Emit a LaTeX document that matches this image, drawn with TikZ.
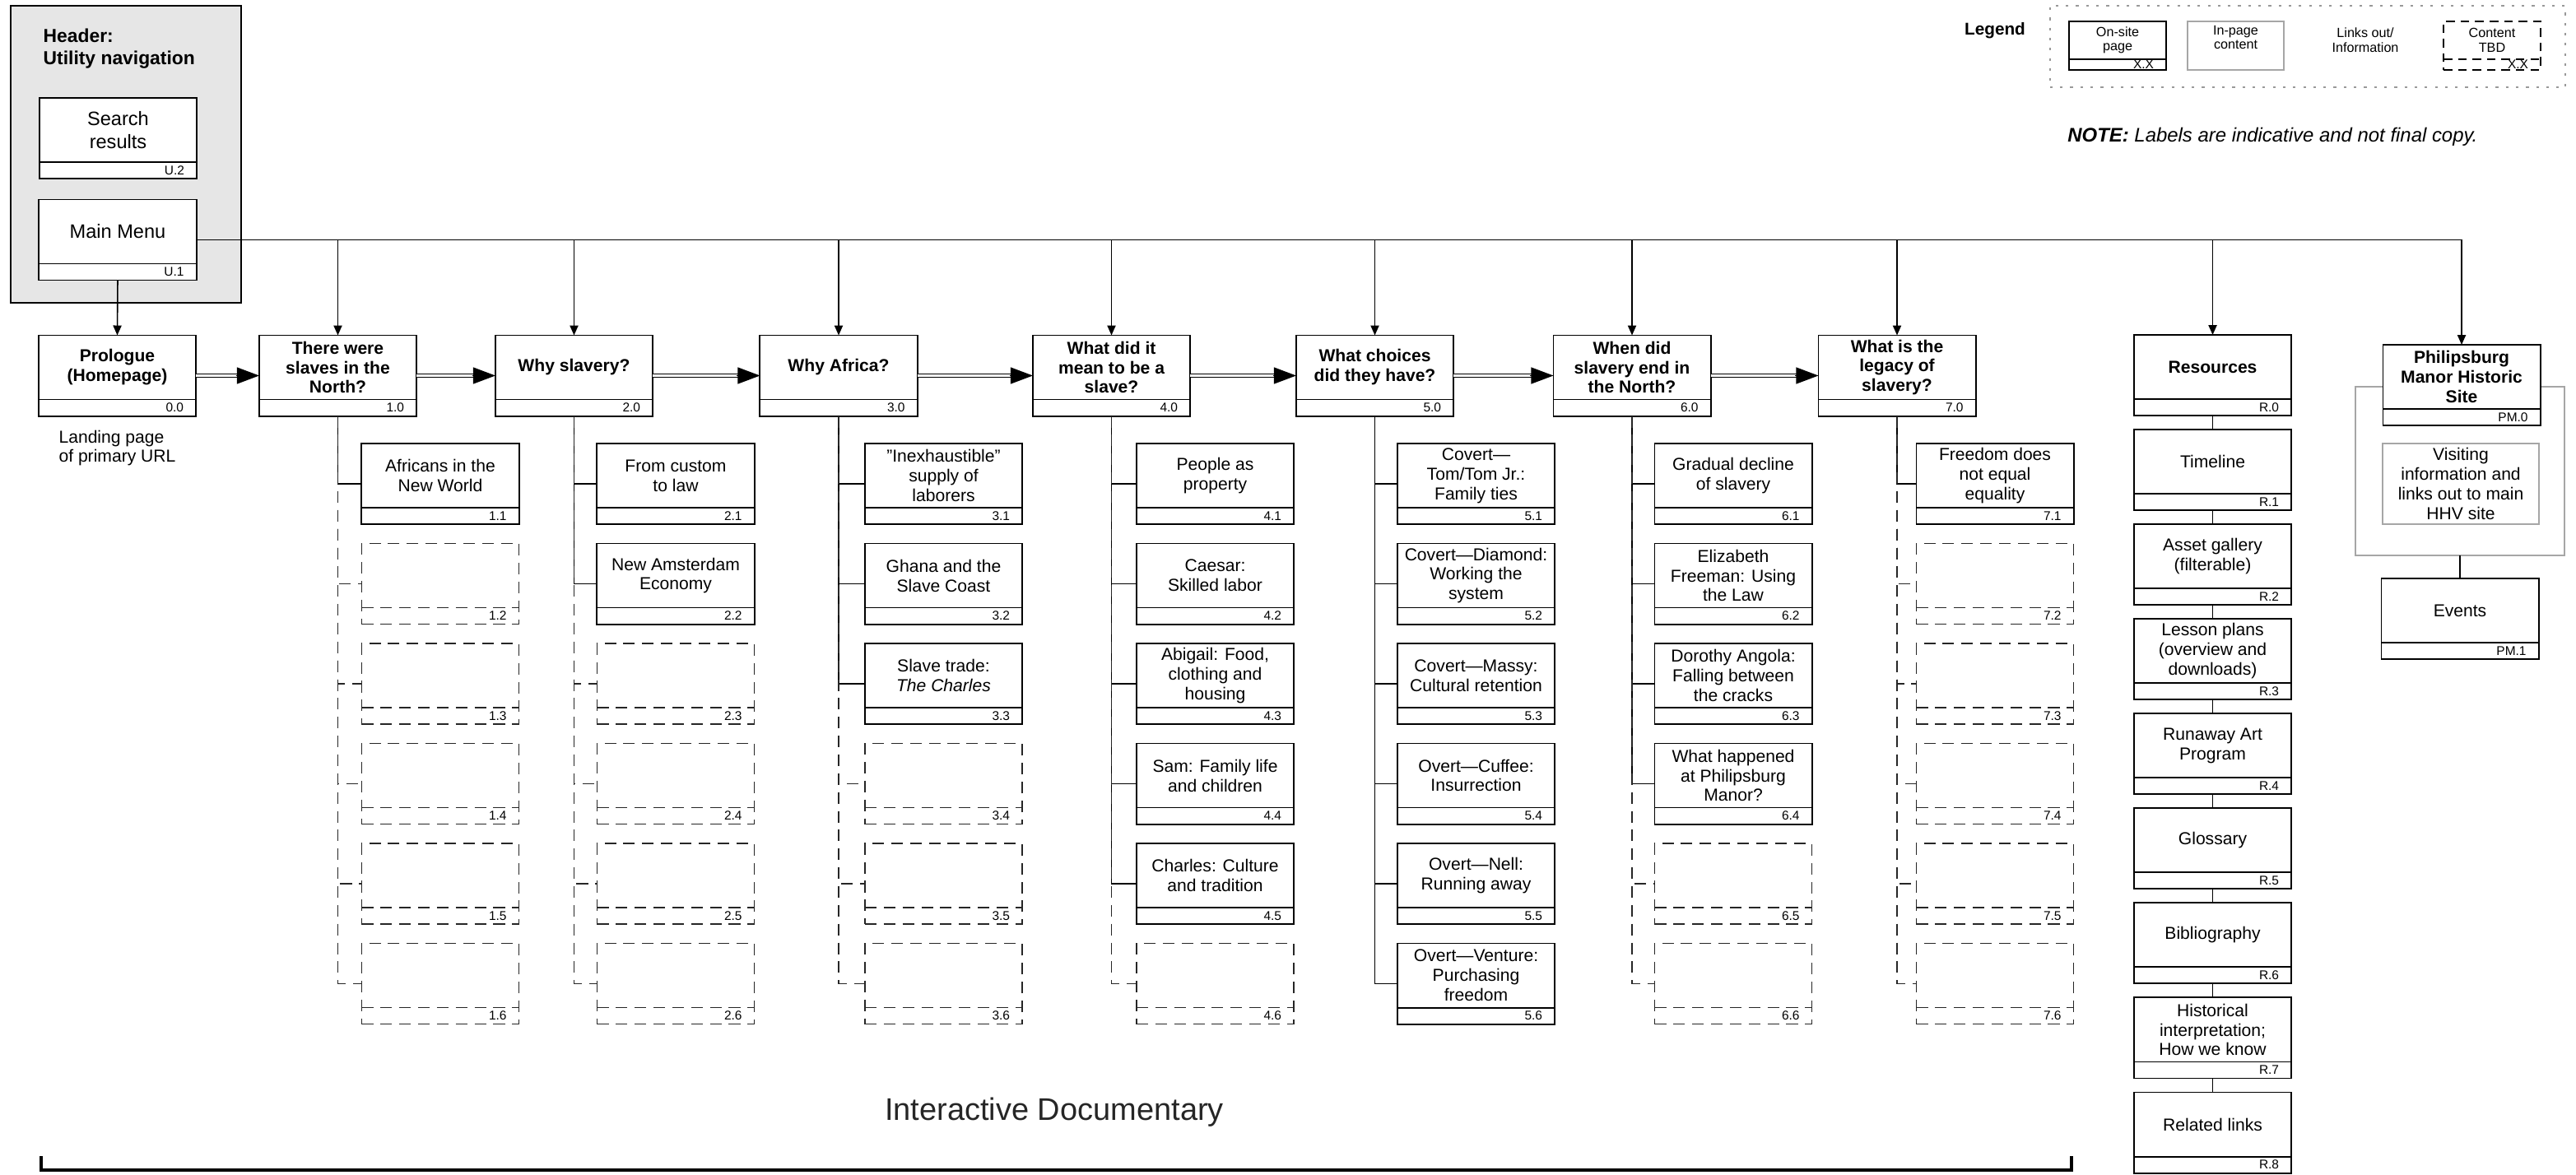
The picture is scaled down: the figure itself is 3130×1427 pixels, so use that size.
\documentclass[tikz,border=0pt]{standalone}
\usepackage{fontspec}
\setmainfont{Liberation Sans}
\usetikzlibrary{positioning, arrows.meta}

\definecolor{utilgray}{HTML}{E6E6E6}
\def\footh{0.2cm}
\newcommand{\numfont}{\fontsize{4.4}{4.4}\selectfont}
\newcommand{\pgtxt}[1]{\parbox[c][0.98cm][c]{1.87cm}{\centering #1\par\vspace{\footh}}}
\newcommand{\legtxt}[1]{\parbox[c][0.59cm][c]{1.14cm}{\centering #1\par\vspace{\footh}}}

\tikzset{
  footer/.code={\def\footh{#1}},
  pagebox/.style={draw, line width=0.55pt, fill=white, inner sep=0pt, outer sep=0pt,
    minimum width=1.91cm, minimum height=0.98cm,
    font=\fontsize{6}{6.8}\selectfont,
    path picture={
      \draw ([yshift=\footh]path picture bounding box.south west) -- ([yshift=\footh]path picture bounding box.south east);
      \node[anchor=east, inner sep=0pt, minimum size=0pt, font=\numfont]
        at ([xshift=-0.15cm, yshift=0.5*\footh]path picture bounding box.south east) {#1};
    }},
  toppage/.style={pagebox=#1, font=\bfseries\fontsize{6}{6.8}\selectfont},
  tbdbox/.style={pagebox=#1, line width=0.45pt, draw=black!85, dash pattern=on 4pt off 2.5pt},
  utilpage/.style={pagebox=#1, font=\fontsize{6.7}{8}\selectfont},
  legpage/.style={pagebox=#1, footer=0.13cm, minimum width=1.18cm, minimum height=0.59cm,
    font=\fontsize{4.6}{5}\selectfont},
  leginfo/.style={draw=black!35, line width=0.5pt, fill=white, inner sep=0pt,
    minimum width=1.17cm, minimum height=0.59cm, font=\fontsize{4.6}{5}\selectfont},
  legframe/.style={draw=black!40, line width=0.45pt, dash pattern=on 0.9pt off 2.6pt,
    minimum width=6.26cm, minimum height=0.99cm},
  infobox/.style={draw=black!35, line width=0.5pt, fill=white, inner sep=0pt, align=center,
    minimum width=1.90cm, minimum height=0.98cm, font=\fontsize{6}{6.8}\selectfont},
  grpbox/.style={draw=black!35, line width=0.5pt, outer sep=0pt, minimum width=2.54cm, minimum height=2.05cm},
  utilbox/.style={draw, line width=0.5pt, fill=utilgray, minimum width=2.80cm, minimum height=3.61cm},
  conn/.style={line width=0.45pt},
  tbdconn/.style={conn, draw=black!85, dash pattern=on 4pt off 2.5pt},
  arr/.style={conn, -{Triangle[length=3.4pt, width=2.9pt]}},
  seqline/.style={draw=black, double=white, line width=0.35pt, double distance=0.65pt, shorten >=7.3pt},
  seqhead/.style={line width=0.35pt, -{Triangle[length=7.7pt, width=5.7pt]}}
}

\begin{document}
\begin{tikzpicture}[x=0.01cm, y=-0.01cm]
    \useasboundingbox (0,0) rectangle (3130,1427);

    % Header: utility navigation
    \node[utilbox] (util) at (153,187.5) {};
    \node[anchor=north west, align=left, inner sep=0pt, font=\bfseries\fontsize{6.5}{7.7}\selectfont]
        (utiltitle) at (52,34) {Header:\\Utility navigation};
    \node[utilpage=U.2] (search) at (143.5,168) {\pgtxt{Search\\results}};
    \node[utilpage=U.1] (menu) at (143,291.5) {\pgtxt{Main Menu}};

    % Legend
    \node[legframe] (legbox) at (2804,56.5) {};
    \node[font=\bfseries\fontsize{5.9}{6}\selectfont] (legtitle) at (2424,37) {Legend};
    \node[legpage=X.X] (legon) at (2573,55.5) {\legtxt{On-site\\page}};
    \node[leginfo] (legin) at (2716.5,55.5) {\legtxt{In-page\\content}};
    \node[align=center, font=\fontsize{4.6}{5}\selectfont] (legout) at (2874,48.5) {Links out/\\Information};
    \node[legpage=X.X, dash pattern=on 3pt off 2pt] (legtbd) at (3028,55.5) {\legtxt{Content\\TBD}};
    \node[anchor=west, font=\itshape\fontsize{6.8}{7}\selectfont] (note) at (2500,166)
        {\textbf{NOTE:} Labels are indicative and not final copy.};

    % Top-level pages
    \node[toppage=0.0] (p0) at (142.5,456.5) {\pgtxt{Prologue\\(Homepage)}};
    \node[below=0.05cm of p0, align=left, font=\fontsize{6}{6.5}\selectfont] (p0note) {Landing page\\of primary URL};
    \node[toppage=1.0] (n1) at (410.5,456.5) {\pgtxt{There were\\slaves in the\\North?}};
    \node[toppage=2.0] (n2) at (697.5,456.5) {\pgtxt{Why slavery?}};
    \node[toppage=3.0] (n3) at (1019,456.5) {\pgtxt{Why Africa?}};
    \node[toppage=4.0] (n4) at (1350.5,456.5) {\pgtxt{What did it\\mean to be a\\slave?}};
    \node[toppage=5.0] (n5) at (1670.5,456.5) {\pgtxt{What choices\\did they have?}};
    \node[toppage=6.0] (n6) at (1983,456.5) {\pgtxt{When did\\slavery end in\\the North?}};
    \node[toppage=7.0] (n7) at (2305,456.5) {\pgtxt{What is the\\legacy of\\slavery?}};

    % Story sequence
    \foreach \a/\b in {p0/n1, n1/n2, n2/n3, n3/n4, n4/n5, n5/n6, n6/n7} {
        \draw[seqline] (\a.east) -- (\b.west);
        \draw[seqhead] ([xshift=-8pt]\b.west) -- (\b.west);
    }

    % Chapter pages (rows at 588 + 121.5 steps)
    \node[pagebox=1.1] (c11) at (535,588) {\pgtxt{Africans in the\\New World}};

    \node[pagebox=2.1] (c21) at (821,588) {\pgtxt{From custom\\to law}};
    \node[pagebox=2.2] (c22) at (821,709.5) {\pgtxt{New Amsterdam\\Economy}};

    \node[pagebox=3.1] (c31) at (1146.5,588) {\pgtxt{"Inexhaustible"\\supply of\\laborers}};
    \node[pagebox=3.2] (c32) at (1146.5,709.5) {\pgtxt{Ghana and the\\Slave Coast}};
    \node[pagebox=3.3] (c33) at (1146.5,831) {\pgtxt{Slave trade:\\\textit{The Charles}}};

    \node[pagebox=4.1] (c41) at (1476.5,588) {\pgtxt{People as\\property}};
    \node[pagebox=4.2] (c42) at (1476.5,709.5) {\pgtxt{Caesar:\\Skilled labor}};
    \node[pagebox=4.3] (c43) at (1476.5,831) {\pgtxt{Abigail: Food,\\clothing and\\housing}};
    \node[pagebox=4.4] (c44) at (1476.5,952.5) {\pgtxt{Sam: Family life\\and children}};
    \node[pagebox=4.5] (c45) at (1476.5,1074) {\pgtxt{Charles: Culture\\and tradition}};

    \node[pagebox=5.1] (c51) at (1793.5,588) {\pgtxt{Covert—\\Tom/Tom Jr.:\\Family ties}};
    \node[pagebox=5.2] (c52) at (1793.5,709.5) {\pgtxt{Covert—Diamond:\\Working the\\system}};
    \node[pagebox=5.3] (c53) at (1793.5,831) {\pgtxt{Covert—Massy:\\Cultural retention}};
    \node[pagebox=5.4] (c54) at (1793.5,952.5) {\pgtxt{Overt—Cuffee:\\Insurrection}};
    \node[pagebox=5.5] (c55) at (1793.5,1074) {\pgtxt{Overt—Nell:\\Running away}};
    \node[pagebox=5.6] (c56) at (1793.5,1195.5) {\pgtxt{Overt—Venture:\\Purchasing\\freedom}};

    \node[pagebox=6.1] (c61) at (2106,588) {\pgtxt{Gradual decline\\of slavery}};
    \node[pagebox=6.2] (c62) at (2106,709.5) {\pgtxt{Elizabeth\\Freeman: Using\\the Law}};
    \node[pagebox=6.3] (c63) at (2106,831) {\pgtxt{Dorothy Angola:\\Falling between\\the cracks}};
    \node[pagebox=6.4] (c64) at (2106,952.5) {\pgtxt{What happened\\at Philipsburg\\Manor?}};

    \node[pagebox=7.1] (c71) at (2424,588) {\pgtxt{Freedom does\\not equal\\equality}};

    \foreach \p/\c in {n1/c11, n2/c21, n2/c22, n3/c31, n3/c32, n3/c33,
                       n4/c41, n4/c42, n4/c43, n4/c44, n4/c45,
                       n5/c51, n5/c52, n5/c53, n5/c54, n5/c55, n5/c56,
                       n6/c61, n6/c62, n6/c63, n6/c64, n7/c71}
        \draw[conn] (\p.south) |- (\c.west);

    % Content TBD slots
    \foreach \c/\x/\rows in {1/535/{2,3,4,5,6}, 2/821/{3,4,5,6}, 3/1146.5/{4,5,6},
                             4/1476.5/{6}, 6/2106/{5,6}, 7/2424/{2,3,4,5,6}} {
        \foreach \r in \rows {
            \node[tbdbox=\c.\r] (c\c\r) at (\x,{588+121.5*(\r-1)}) {};
            \draw[tbdconn] (n\c.south) |- (c\c\r.west);
        }
    }

    % Resources
    \node[toppage=R.0] (r0) at (2688.5,456) {\pgtxt{Resources}};
    \node[pagebox=R.1, below=0.17cm of r0] (r1) {\pgtxt{Timeline}};
    \node[pagebox=R.2, below=0.17cm of r1] (r2) {\pgtxt{Asset gallery\\(filterable)}};
    \node[pagebox=R.3, below=0.17cm of r2] (r3) {\pgtxt{Lesson plans\\(overview and\\downloads)}};
    \node[pagebox=R.4, below=0.17cm of r3] (r4) {\pgtxt{Runaway Art\\Program}};
    \node[pagebox=R.5, below=0.17cm of r4] (r5) {\pgtxt{Glossary}};
    \node[pagebox=R.6, below=0.17cm of r5] (r6) {\pgtxt{Bibliography}};
    \node[pagebox=R.7, below=0.17cm of r6] (r7) {\pgtxt{Historical\\interpretation;\\How we know}};
    \node[pagebox=R.8, below=0.17cm of r7] (r8) {\pgtxt{Related links}};
    \foreach \a/\b in {r0/r1, r1/r2, r2/r3, r3/r4, r4/r5, r5/r6, r6/r7, r7/r8}
        \draw[conn] (\a.south) -- (\b.north);

    % Philipsburg Manor
    \node[grpbox] (pmgrp) at (2989,572.5) {};
    \node[toppage=PM.0] (pm0) at (2991,468) {\pgtxt{Philipsburg\\Manor Historic\\Site}};
    \node[infobox] (pmvisit) at (2990,588) {Visiting\\information and\\links out to main\\HHV site};
    \node[pagebox=PM.1, below=0.28cm of pmgrp] (pm1) {\pgtxt{Events}};
    \draw[conn] (pmgrp.south) -- (pm1.north);

    % Main menu links
    \draw[arr] (menu.south) -- (p0.north);
    \draw[arr] (menu.east) -| (pm0.north);
    \foreach \n in {n1,n2,n3,n4,n5,n6,n7,r0}
        \draw[arr] (menu.east -| \n.north) -- (\n.north);

    % Interactive documentary span
    \node[font=\fontsize{10.8}{12}\selectfont, text=black!85] (idoc) at (1281,1352) {Interactive Documentary};
    \draw[line width=0.9pt] (50,1405) |- (2517,1422) -- (2517,1405);
\end{tikzpicture}
\end{document}
